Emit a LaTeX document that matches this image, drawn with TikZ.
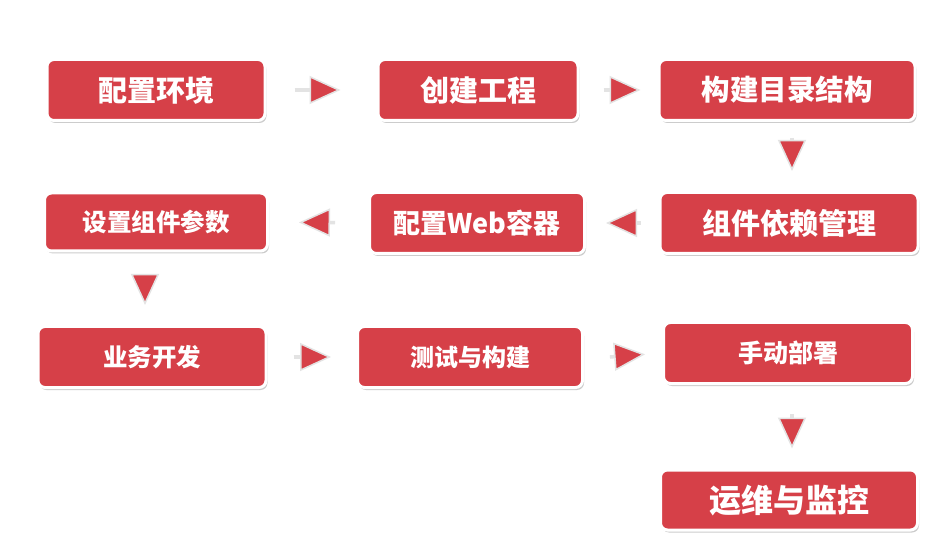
\documentclass[tikz,border=0pt]{standalone}
\usepackage{fontspec}
\usepackage{tikz}
\usetikzlibrary{arrows.meta,shadows}
\newfontfamily\cjk{Noto Sans CJK SC}
\definecolor{boxred}{RGB}{214,64,72}

\begin{document}
\begin{tikzpicture}[x=1pt,y=-1pt,
  box/.style={rectangle,rounded corners=7pt,fill=boxred,draw=white,line width=3pt,
    text=white,inner sep=0pt,
    font=\cjk\bfseries\fontsize{#1}{#1}\selectfont,
    drop shadow={shadow xshift=1.5pt,shadow yshift=-2.5pt,opacity=0.4,fill=gray}},
  flow/.style={draw=gray!22,line width=3.5pt,
    -{Triangle[length=31pt,width=28pt,fill=boxred,line width=1.5pt]}}]
  \useasboundingbox (0,0) rectangle (938,556);
  \fill[white] (0,0) rectangle (938,556);
  \node[box=29,minimum width=218pt,minimum height=61pt] (env) at (156,90) {配置环境};
  \node[box=29,minimum width=200pt,minimum height=61pt] (proj) at (478,90) {创建工程};
  \node[box=28.5,minimum width=256pt,minimum height=61pt] (dirs) at (787,90) {构建目录结构};
  \node[box=29,minimum width=258pt,minimum height=61pt] (deps) at (789,223) {组件依赖管理};
  \node[box=27,minimum width=215pt,minimum height=61pt] (web) at (477,223) {配置Web容器};
  \node[box=24.5,minimum width=223pt,minimum height=58pt] (param) at (156,222) {设置组件参数};
  \node[box=24.5,minimum width=228pt,minimum height=61pt] (dev) at (152,357) {业务开发};
  \node[box=24,minimum width=225pt,minimum height=61pt] (test) at (470,357) {测试与构建};
  \node[box=25,minimum width=249pt,minimum height=61pt] (deploy) at (788,353) {手动部署};
  \node[box=32,minimum width=257pt,minimum height=60pt] (ops) at (789,500) {运维与监控};
  \draw[flow,shorten <=28pt,shorten >=36pt] (env) -- (proj);
  \draw[flow,shorten <=24pt,shorten >=17pt] (proj) -- (dirs);
  \draw[flow,shorten <=16pt,shorten >=20pt] ([xshift=5pt]dirs.south) -- ([xshift=3pt]deps.north);
  \draw[flow,shorten <=18pt,shorten >=20pt] (deps) -- (web);
  \draw[flow,shorten <=33pt,shorten >=30pt] (web) -- (param);
  \draw[flow,shorten <=22pt,shorten >=20pt] ([xshift=-11pt]param.south) -- ([xshift=-7pt]dev.north);
  \draw[flow,shorten <=26pt,shorten >=25pt] (dev) -- (test);
  \draw[flow,shorten <=26pt,shorten >=17pt] ([yshift=-2pt]test.east) -- (deploy.west);
  \draw[flow,shorten <=29pt,shorten >=20pt] ([xshift=4pt]deploy.south) -- ([xshift=3pt]ops.north);
\end{tikzpicture}
\end{document}
